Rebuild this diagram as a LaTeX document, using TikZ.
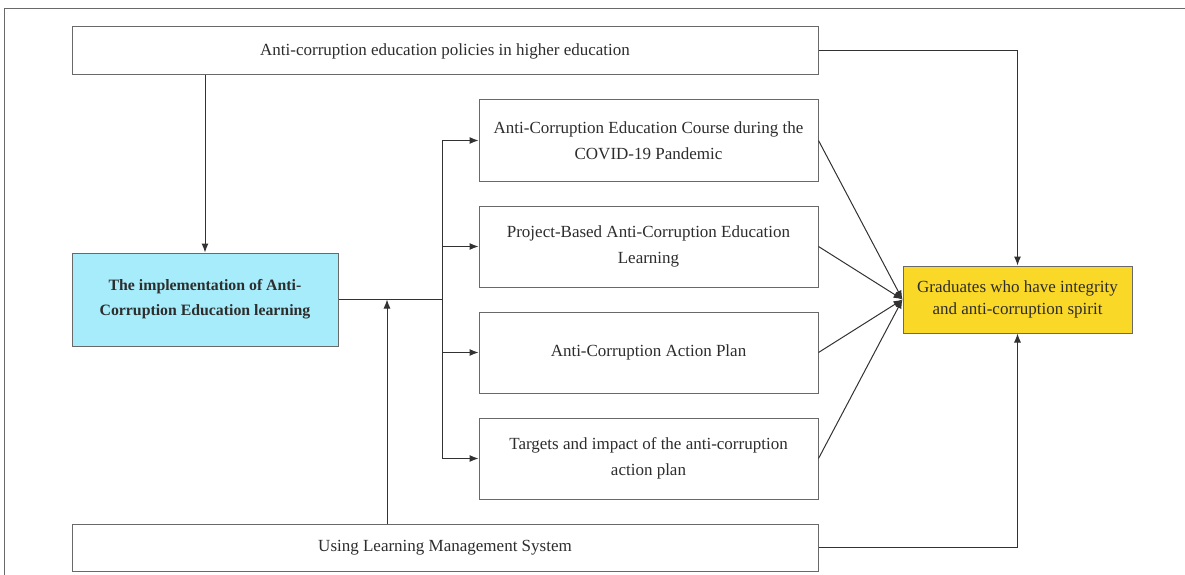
\documentclass[tikz,border=0pt]{standalone}
\usepackage{fontspec}
\setmainfont{Liberation Serif}
\usetikzlibrary{arrows.meta}
\definecolor{boxc}{RGB}{105,105,105}
\definecolor{linec}{RGB}{50,50,50}
\definecolor{txt}{RGB}{45,45,45}
\definecolor{bluef}{RGB}{166,236,250}
\definecolor{yellowf}{RGB}{250,216,40}
\tikzset{
  box/.style={draw=boxc, line width=1pt, fill=white, align=center, text=txt, inner sep=2pt,
    font=\fontsize{17}{26.5}\selectfont},
  arr/.style={draw=linec, line width=1pt, -{Latex[length=9pt,width=7pt]}},
  ln/.style={draw=linec, line width=1pt},
}
\begin{document}
\begin{tikzpicture}[x=1pt,y=-1pt]
\useasboundingbox (0,0) rectangle (1185,575);
\draw[boxc, line width=1pt] (1185,9) -- (4,9) -- (4,575);
\node[box, minimum width=746pt, minimum height=48pt] (top) at (445,51) {Anti-corruption education policies in higher education};
\node[box, fill=bluef, minimum width=266pt, minimum height=93pt, font=\bfseries\fontsize{15.8}{25}\selectfont] (blue) at (205,299.5) {The implementation of Anti-\\Corruption Education learning};
\node[box, minimum width=339pt, minimum height=81pt] (b1) at (648.5,140.5) {Anti-Corruption Education Course during the\\COVID-19 Pandemic};
\node[box, minimum width=339pt, minimum height=81pt] (b2) at (648.5,246.5) {Project-Based Anti-Corruption Education\\Learning};
\node[box, minimum width=339pt, minimum height=81pt] (b3) at (648.5,352.5) {Anti-Corruption Action Plan};
\node[box, minimum width=339pt, minimum height=81pt] (b4) at (648.5,458.5) {Targets and impact of the anti-corruption\\action plan};
\node[box, fill=yellowf, minimum width=229pt, minimum height=67pt, font=\fontsize{17}{22.5}\selectfont] (yel) at (1017.5,299.5) {Graduates who have integrity\\and anti-corruption spirit};
\node[box, minimum width=746pt, minimum height=47pt] (bot) at (445,547.5) {Using Learning Management System};
\coordinate (j) at (442,299.5);
\coordinate (u) at (387,0);
\draw[arr] (top.south -| blue.north) -- (blue.north);
\draw[arr] (top.east) -| (yel.north);
\draw[arr] (bot.east) -| (yel.south);
\draw[ln] (blue.east) -- (j);
\draw[ln] (j |- b1.west) -- (j |- b4.west);
\draw[arr] (j |- b1.west) -- (b1.west);
\draw[arr] (j |- b2.west) -- (b2.west);
\draw[arr] (j |- b3.west) -- (b3.west);
\draw[arr] (j |- b4.west) -- (b4.west);
\draw[arr] (bot.north -| u) -- (u |- blue.east);
\draw[arr] (b1.east) -- (yel.west);
\draw[arr] (b2.east) -- (yel.west);
\draw[arr] (b3.east) -- (yel.west);
\draw[arr] (b4.east) -- (yel.west);
\end{tikzpicture}
\end{document}
